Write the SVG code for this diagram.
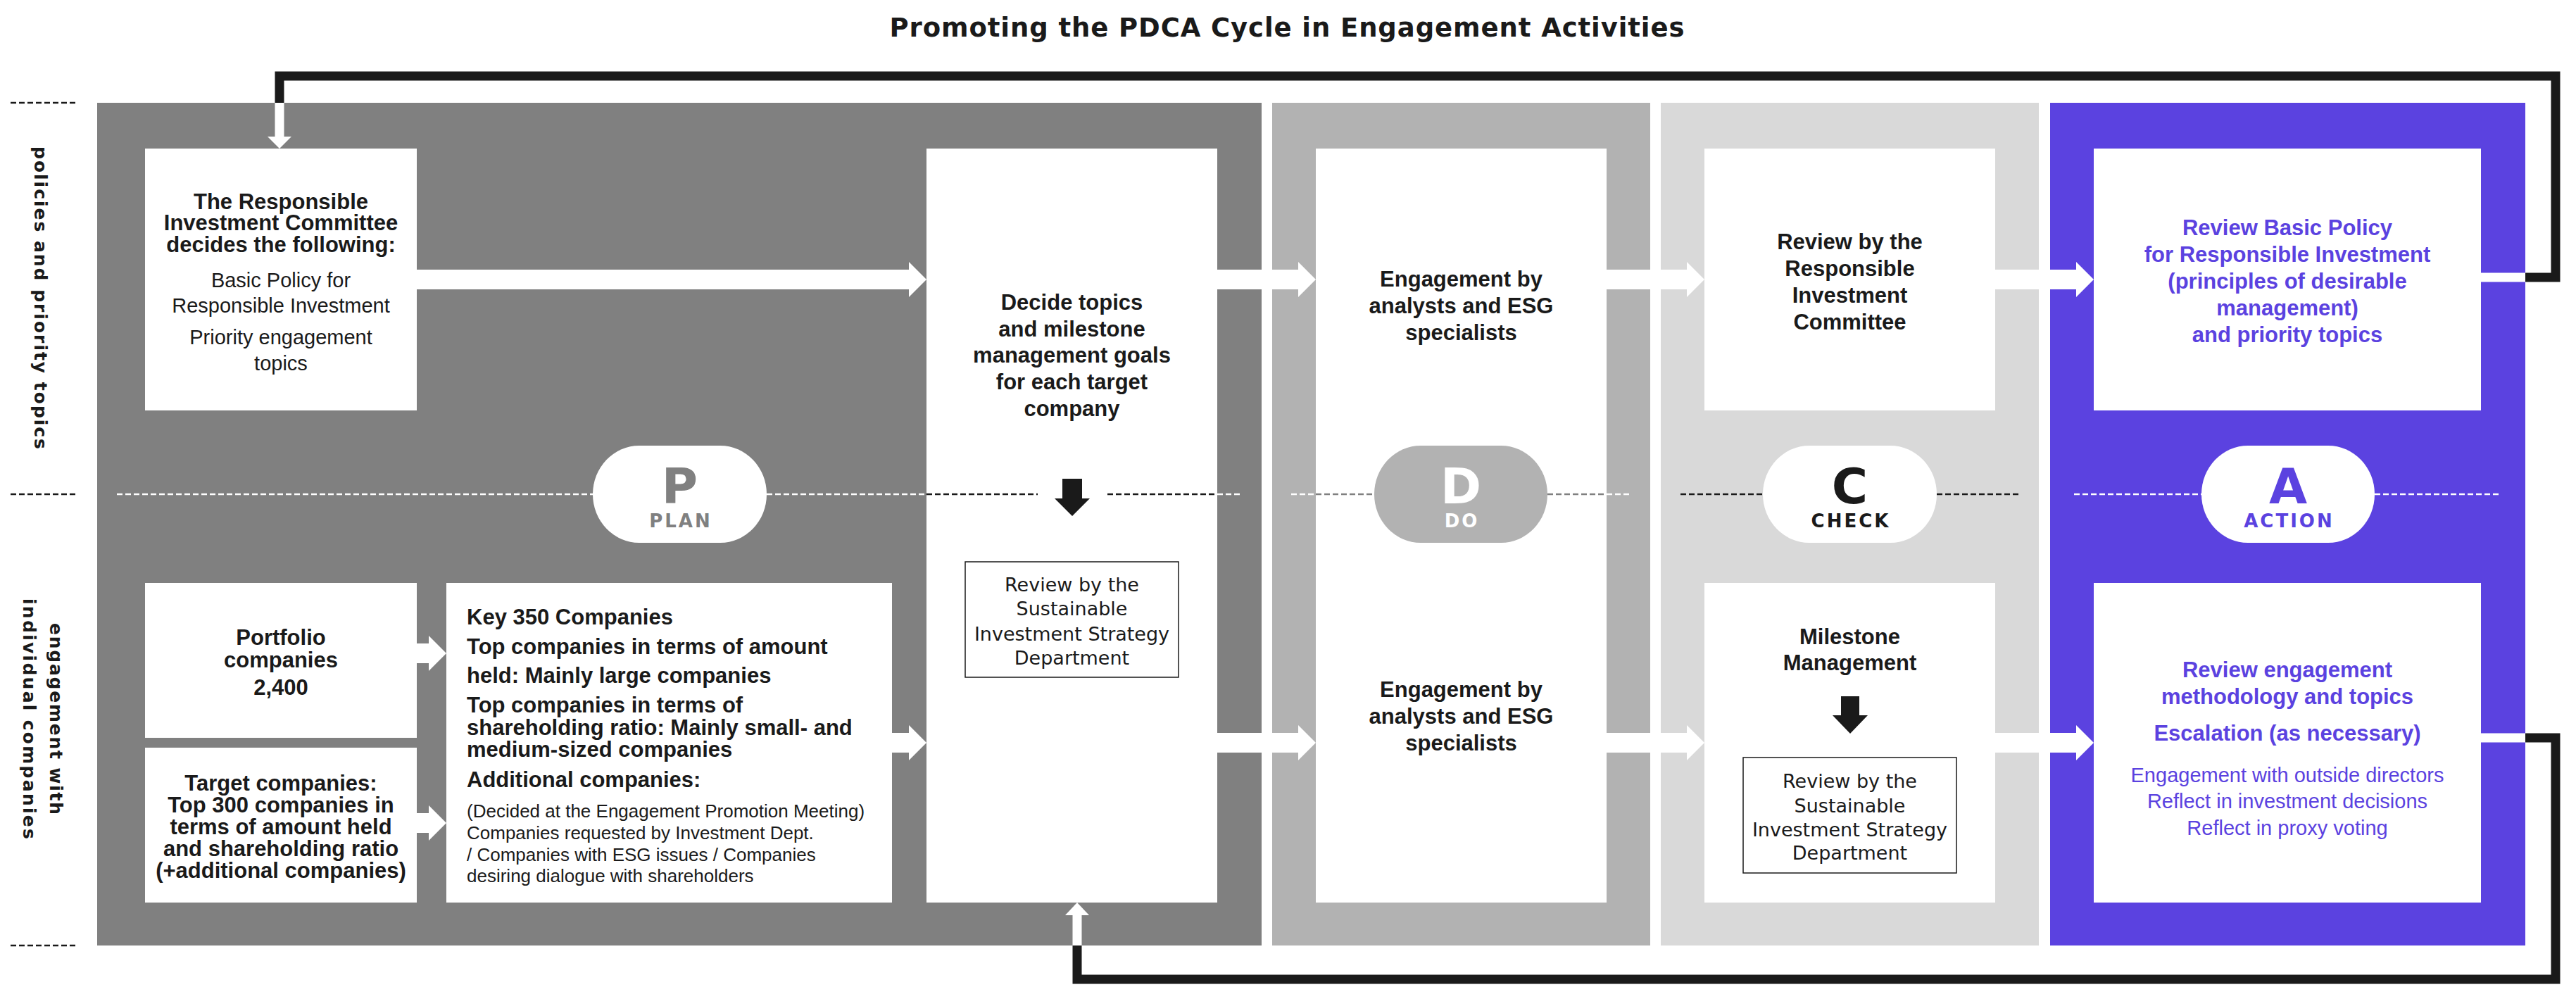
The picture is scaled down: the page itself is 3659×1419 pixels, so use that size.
<svg xmlns="http://www.w3.org/2000/svg" width="3659" height="1419" viewBox="0 0 3659 1419">
<style>
.b{font-family:"Liberation Sans",Arial,sans-serif;font-weight:bold;font-size:31px;fill:#1a1a1a}
.r{font-family:"Liberation Sans",Arial,sans-serif;font-size:29px;fill:#1a1a1a}
.k{font-family:"Liberation Sans",Arial,sans-serif;font-size:26px;fill:#1a1a1a}
.dv{font-family:"DejaVu Sans",sans-serif;font-size:27px;fill:#1a1a1a}
.m{text-anchor:middle}
.pu{fill:#5b42e0}
.big{font-family:"DejaVu Sans",sans-serif;font-weight:bold;font-size:70px;text-anchor:middle}
.sub{font-family:"DejaVu Sans",sans-serif;font-weight:bold;font-size:26px;letter-spacing:3px;text-anchor:middle}
.side{font-family:"DejaVu Sans",sans-serif;font-weight:bold;font-size:25px;fill:#1a1a1a;text-anchor:middle}
.box{fill:#ffffff}
.dw{stroke:#ffffff;stroke-width:2.5;stroke-dasharray:8 4;fill:none}
.dk{stroke:#1a1a1a;stroke-width:2.5;stroke-dasharray:8 4;fill:none}
.dg{stroke:#808080;stroke-width:2.5;stroke-dasharray:8 4;fill:none}
.fb{stroke:#1a1a1a;stroke-width:13;fill:none;stroke-linejoin:miter}
.fw{stroke:#ffffff;stroke-width:13;fill:none}
.rv{fill:#ffffff;stroke:#1a1a1a;stroke-width:1.5}
</style>

<text x="1828" y="52" font-family="DejaVu Sans, sans-serif" font-weight="bold" font-size="37" fill="#1a1a1a" text-anchor="middle" textLength="1129" lengthAdjust="spacing">Promoting the PDCA Cycle in Engagement Activities</text>

<g id="row-labels">
<line class="dk" x1="15" y1="146" x2="110" y2="146"/>
<line class="dk" x1="15" y1="702" x2="110" y2="702"/>
<line class="dk" x1="15" y1="1343" x2="110" y2="1343"/>
<text class="side" transform="translate(49 423) rotate(90)" textLength="430" lengthAdjust="spacing">policies and priority topics</text>
<text class="side" transform="translate(71 1021) rotate(90)" textLength="272" lengthAdjust="spacing">engagement with</text>
<text class="side" transform="translate(32.5 1021) rotate(90)" textLength="342" lengthAdjust="spacing">individual companies</text>
</g>

<g id="panels">
<rect id="panel-plan" x="138" y="146" width="1654" height="1197" fill="#808080"/>
<rect id="panel-do" x="1807" y="146" width="537" height="1197" fill="#b2b2b2"/>
<rect id="panel-check" x="2359" y="146" width="537" height="1197" fill="#d9d9d9"/>
<rect id="panel-action" x="2912" y="146" width="675" height="1197" fill="#5b42e0"/>
</g>

<g id="dashes">
<line class="dw" x1="166" y1="702" x2="842" y2="702"/>
<line class="dw" x1="1089" y1="702" x2="1316" y2="702"/>
<line class="dw" x1="1729" y1="702" x2="1765" y2="702"/>
<line class="dw" x1="1834" y1="702" x2="1869" y2="702"/>
<line class="dw" x1="2282" y1="702" x2="2316" y2="702"/>
<line class="dk" x1="2387" y1="702" x2="2504" y2="702"/>
<line class="dk" x1="2751" y1="702" x2="2868" y2="702"/>
<line class="dw" x1="2946" y1="702" x2="3127" y2="702"/>
<line class="dw" x1="3373" y1="702" x2="3552" y2="702"/>
</g>

<g id="node-committee">
<rect class="box" x="206" y="211" width="386" height="372"/>
<text class="b m" x="399" y="297">The Responsible</text>
<text class="b m" x="399" y="327">Investment Committee</text>
<text class="b m" x="399" y="358">decides the following:</text>
<text class="r m" x="399" y="408">Basic Policy for</text>
<text class="r m" x="399" y="444">Responsible Investment</text>
<text class="r m" x="399" y="489">Priority engagement</text>
<text class="r m" x="399" y="526">topics</text>
</g>

<g id="node-portfolio">
<rect class="box" x="206" y="828" width="386" height="220"/>
<text class="b m" x="399" y="916">Portfolio</text>
<text class="b m" x="399" y="948">companies</text>
<text class="b m" x="399" y="987">2,400</text>
</g>

<g id="node-target">
<rect class="box" x="206" y="1062" width="386" height="220"/>
<text class="b m" x="399" y="1123">Target companies:</text>
<text class="b m" x="399" y="1154">Top 300 companies in</text>
<text class="b m" x="399" y="1185">terms of amount held</text>
<text class="b m" x="399" y="1216">and shareholding ratio</text>
<text class="b m" x="399" y="1247">(+additional companies)</text>
</g>

<g id="node-key350">
<rect class="box" x="634" y="828" width="633" height="454"/>
<text class="b" x="663" y="887">Key 350 Companies</text>
<text class="b" x="663" y="929">Top companies in terms of amount</text>
<text class="b" x="663" y="970">held: Mainly large companies</text>
<text class="b" x="663" y="1012">Top companies in terms of</text>
<text class="b" x="663" y="1044">shareholding ratio: Mainly small- and</text>
<text class="b" x="663" y="1075">medium-sized companies</text>
<text class="b" x="663" y="1118">Additional companies:</text>
<text class="k" x="663" y="1161">(Decided at the Engagement Promotion Meeting)</text>
<text class="k" x="663" y="1192">Companies requested by Investment Dept.</text>
<text class="k" x="663" y="1223">/ Companies with ESG issues / Companies</text>
<text class="k" x="663" y="1253">desiring dialogue with shareholders</text>
</g>

<g id="node-decide">
<rect class="box" x="1316" y="211" width="413" height="1071"/>
<text class="b m" x="1522.5" y="440">Decide topics</text>
<text class="b m" x="1522.5" y="478">and milestone</text>
<text class="b m" x="1522.5" y="515">management goals</text>
<text class="b m" x="1522.5" y="553">for each target</text>
<text class="b m" x="1522.5" y="591">company</text>
<line class="dk" x1="1316" y1="702" x2="1474" y2="702"/>
<line class="dk" x1="1573" y1="702" x2="1729" y2="702"/>
<polygon fill="#1a1a1a" points="1509,680 1537,680 1537,708 1548,708 1523,733 1498,708 1509,708"/>
<rect class="rv" x="1371" y="798" width="303" height="164"/>
<text class="dv m" x="1522.5" y="840">Review by the</text>
<text class="dv m" x="1522.5" y="874">Sustainable</text>
<text class="dv m" x="1522.5" y="910">Investment Strategy</text>
<text class="dv m" x="1522.5" y="944">Department</text>
</g>

<g id="node-do">
<rect class="box" x="1869" y="211" width="413" height="1071"/>
<line class="dg" x1="1869" y1="702" x2="1952" y2="702"/>
<line class="dg" x1="2198" y1="702" x2="2282" y2="702"/>
<text class="b m" x="2075.5" y="407">Engagement by</text>
<text class="b m" x="2075.5" y="445">analysts and ESG</text>
<text class="b m" x="2075.5" y="483">specialists</text>
<text class="b m" x="2075.5" y="990">Engagement by</text>
<text class="b m" x="2075.5" y="1028">analysts and ESG</text>
<text class="b m" x="2075.5" y="1066">specialists</text>
</g>

<g id="node-check-committee">
<rect class="box" x="2421" y="211" width="413" height="372"/>
<text class="b m" x="2627.5" y="354">Review by the</text>
<text class="b m" x="2627.5" y="392">Responsible</text>
<text class="b m" x="2627.5" y="430">Investment</text>
<text class="b m" x="2627.5" y="468">Committee</text>
</g>

<g id="node-check-milestone">
<rect class="box" x="2421" y="828" width="413" height="454"/>
<text class="b m" x="2627.5" y="915">Milestone</text>
<text class="b m" x="2627.5" y="952">Management</text>
<polygon fill="#1a1a1a" points="2615,989 2641,989 2641,1016 2653,1016 2628,1042 2603,1016 2615,1016"/>
<rect class="rv" x="2476" y="1076" width="303" height="164"/>
<text class="dv m" x="2627.5" y="1119">Review by the</text>
<text class="dv m" x="2627.5" y="1154">Sustainable</text>
<text class="dv m" x="2627.5" y="1188">Investment Strategy</text>
<text class="dv m" x="2627.5" y="1221">Department</text>
</g>

<g id="node-action-policy">
<rect class="box" x="2974" y="211" width="550" height="372"/>
<text class="b m pu" x="3249" y="334">Review Basic Policy</text>
<text class="b m pu" x="3249" y="372">for Responsible Investment</text>
<text class="b m pu" x="3249" y="410">(principles of desirable</text>
<text class="b m pu" x="3249" y="448">management)</text>
<text class="b m pu" x="3249" y="486">and priority topics</text>
</g>

<g id="node-action-engagement">
<rect class="box" x="2974" y="828" width="550" height="454"/>
<text class="b m pu" x="3249" y="962">Review engagement</text>
<text class="b m pu" x="3249" y="1000">methodology and topics</text>
<text class="b m pu" x="3249" y="1052" font-size="32">Escalation (as necessary)</text>
<text class="r m pu" x="3249" y="1111" font-size="28">Engagement with outside directors</text>
<text class="r m pu" x="3249" y="1148" font-size="28">Reflect in investment decisions</text>
<text class="r m pu" x="3249" y="1186" font-size="28">Reflect in proxy voting</text>
</g>

<g id="pill-plan">
<rect x="842" y="633" width="247" height="138" rx="66" ry="69" fill="#ffffff"/>
<text class="big" x="965.5" y="715" fill="#808080">P</text>
<text class="sub" x="967" y="749" fill="#808080">PLAN</text>
</g>
<g id="pill-do">
<rect x="1952" y="633" width="246" height="138" rx="66" ry="69" fill="#b2b2b2"/>
<text class="big" x="2075" y="715" fill="#ffffff">D</text>
<text class="sub" x="2076.5" y="749" fill="#ffffff">DO</text>
</g>
<g id="pill-check">
<rect x="2504" y="633" width="247" height="138" rx="66" ry="69" fill="#ffffff"/>
<text class="big" x="2627.5" y="715" fill="#1a1a1a">C</text>
<text class="sub" x="2629" y="749" fill="#1a1a1a">CHECK</text>
</g>
<g id="pill-action">
<rect x="3127" y="633" width="246" height="138" rx="66" ry="69" fill="#ffffff"/>
<text class="big pu" x="3250" y="715">A</text>
<text class="sub pu" x="3251.5" y="749">ACTION</text>
</g>

<g id="connectors">
<g fill="#ffffff">
<polygon points="592,383 1291,383 1291,372 1316,397 1291,422 1291,411 592,411"/>
<polygon points="1729,383 1844,383 1844,372 1869,397 1844,422 1844,411 1729,411"/>
<polygon points="2282,383 2396,383 2396,372 2421,397 2396,422 2396,411 2282,411"/>
<polygon points="2834,383 2949,383 2949,372 2974,397 2949,422 2949,411 2834,411"/>
<polygon points="1267,1041 1291,1041 1291,1030 1316,1055 1291,1080 1291,1069 1267,1069"/>
<polygon points="1729,1041 1844,1041 1844,1030 1869,1055 1844,1080 1844,1069 1729,1069"/>
<polygon points="2282,1041 2396,1041 2396,1030 2421,1055 2396,1080 2396,1069 2282,1069"/>
<polygon points="2834,1041 2949,1041 2949,1030 2974,1055 2949,1080 2949,1069 2834,1069"/>
<polygon points="592,914 609,914 609,903 634,928 609,953 609,942 592,942"/>
<polygon points="592,1155 609,1155 609,1144 634,1169 609,1194 609,1183 592,1183"/>
</g>
<path class="fb" d="M3587 394 H3630 V108 H397 V146"/>
<path class="fw" d="M3524 394 H3587"/>
<path class="fw" d="M397 146 V195"/>
<polygon fill="#ffffff" points="380,194 414,194 397,211"/>
<path class="fb" d="M3587 1048 H3630 V1391 H1530 V1343"/>
<path class="fw" d="M3524 1048 H3587"/>
<path class="fw" d="M1530 1343 V1298"/>
<polygon fill="#ffffff" points="1513,1300 1547,1300 1530,1282"/>
</g>
</svg>
